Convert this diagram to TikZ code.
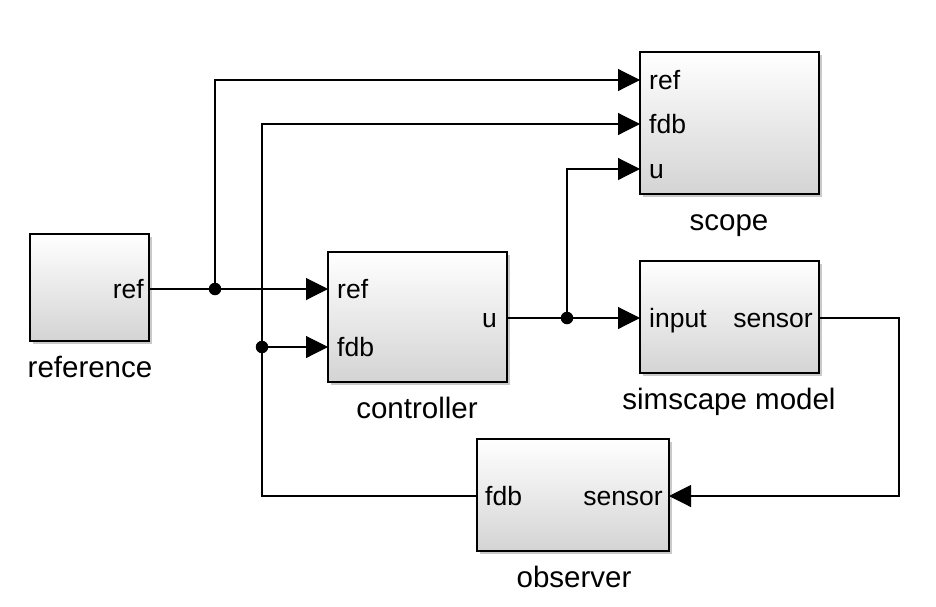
\documentclass[tikz,border=0pt]{standalone}
\usepackage{fontspec}
\setmainfont{Liberation Sans}
\usetikzlibrary{arrows.meta,shadows}
\tikzset{
  blk/.style={draw=black, line width=1.8pt, rectangle, outer sep=0pt, inner sep=0pt,
    top color=white, bottom color=black!17,
    drop shadow={shadow xshift=2.5pt, shadow yshift=-2.5pt, opacity=0.35, fill=black!60}},
  lbl/.style={font=\fontsize{29.5}{32}\selectfont, anchor=base},
  port/.style={font=\fontsize{26.5}{30}\selectfont, inner sep=0pt},
  wire/.style={line width=1.1pt, draw=black},
  arr/.style={wire, -{Triangle[length=22pt,width=22pt]}},
  dot/.style={circle, fill=black, inner sep=0pt, minimum size=12.5pt}
}
\begin{document}
\begin{tikzpicture}[x=1pt,y=-1pt]
\useasboundingbox[fill=white] (0,0) rectangle (936,606);

% blocks
\node[blk, minimum width=119pt, minimum height=107pt, anchor=north west] (reference) at (30,234) {};
\node[blk, minimum width=179pt, minimum height=130pt, anchor=north west] (controller) at (328,252) {};
\node[blk, minimum width=179pt, minimum height=142pt, anchor=north west] (scope) at (640,52) {};
\node[blk, minimum width=179pt, minimum height=112pt, anchor=north west] (simscape) at (640,261) {};
\node[blk, minimum width=192pt, minimum height=112pt, anchor=north west] (observer) at (477,439) {};

% block names
\node[lbl] (t-reference) at (90,377) {reference};
\node[lbl] (t-controller) at (417,418) {controller};
\node[lbl] (t-scope) at (729,230) {scope};
\node[lbl] (t-simscape) at (729,409) {simscape model};
\node[lbl] (t-observer) at (574,587) {observer};

% port coordinates
\coordinate (ref-o) at (reference.east |- 0,289);
\coordinate (ctl-ref) at (controller.west |- 0,289);
\coordinate (ctl-fdb) at (controller.west |- 0,347);
\coordinate (ctl-u) at (controller.east |- 0,318);
\coordinate (sc-ref) at (scope.west |- 0,80);
\coordinate (sc-fdb) at (scope.west |- 0,124);
\coordinate (sc-u) at (scope.west |- 0,169);
\coordinate (sim-in) at (simscape.west |- 0,318);
\coordinate (sim-out) at (simscape.east |- 0,318);
\coordinate (obs-fdb) at (observer.west |- 0,496);
\coordinate (obs-sen) at (observer.east |- 0,496);

% port labels
\node[port, anchor=base east] (p1) at ([xshift=-5pt,yshift=-9.5pt]ref-o) {ref};
\node[port, anchor=base west] (p2) at ([xshift=9pt,yshift=-9.5pt]ctl-ref) {ref};
\node[port, anchor=base west] (p3) at ([xshift=9pt,yshift=-9.5pt]ctl-fdb) {fdb};
\node[port, anchor=base east] (p4) at ([xshift=-10pt,yshift=-9.5pt]ctl-u) {u};
\node[port, anchor=base west] (p5) at ([xshift=9pt,yshift=-9.5pt]sc-ref) {ref};
\node[port, anchor=base west] (p6) at ([xshift=9pt,yshift=-9.5pt]sc-fdb) {fdb};
\node[port, anchor=base west] (p7) at ([xshift=9pt,yshift=-9.5pt]sc-u) {u};
\node[port, anchor=base west] (p8) at ([xshift=9pt,yshift=-9.5pt]sim-in) {input};
\node[port, anchor=base east] (p9) at ([xshift=-6pt,yshift=-9.5pt]sim-out) {sensor};
\node[port, anchor=base west] (p10) at ([xshift=8pt,yshift=-9.5pt]obs-fdb) {fdb};
\node[port, anchor=base east] (p11) at ([xshift=-6pt,yshift=-9.5pt]obs-sen) {sensor};

% junctions
\node[dot] (j1) at (215,289) {};
\node[dot] (j2) at (262,347) {};
\node[dot] (j3) at (567,318) {};
\coordinate (turn) at (899,318);

% connectors
\draw[wire] (ref-o) -- (j1.center);
\draw[arr] (j1.center) -- (ctl-ref);
\draw[arr] (j1.center) |- (sc-ref);
\draw[wire] (obs-fdb) -| (j2.center);
\draw[arr] (j2.center) |- (sc-fdb);
\draw[arr] (j2.center) -- (ctl-fdb);
\draw[wire] (ctl-u) -- (j3.center);
\draw[arr] (j3.center) -- (sim-in);
\draw[arr] (j3.center) |- (sc-u);
\draw[arr] (sim-out) -- (turn) |- (obs-sen);
\end{tikzpicture}
\end{document}
